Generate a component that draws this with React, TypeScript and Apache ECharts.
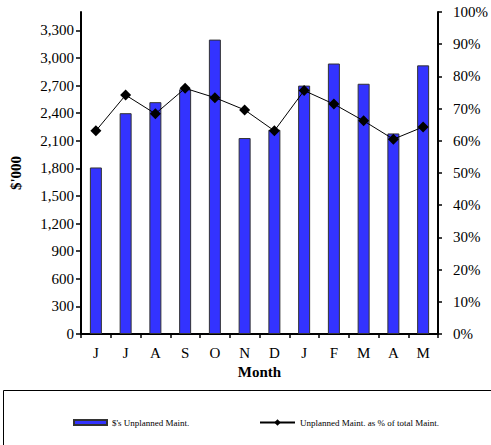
import React, { useEffect, useRef } from "react";
import * as echarts from "echarts";

const months = ["J", "J", "A", "S", "O", "N", "D", "J", "F", "M", "A", "M"];
const unplannedDollars = [1810, 2400, 2520, 2660, 3200, 2130, 2220, 2700, 2940, 2720, 2180, 2920];
const unplannedPct = [63.1, 74.2, 68.4, 76.3, 73.4, 69.6, 63.1, 75.6, 71.4, 66.2, 60.5, 64.3];
const leftTicks = [0, 300, 600, 900, 1200, 1500, 1800, 2100, 2400, 2700, 3000, 3300];
const barName = "$'s Unplanned Maint.";
const lineName = "Unplanned Maint. as % of total Maint.";

const FONT = "'Liberation Serif', 'Times New Roman', serif";

export default function App() {
  const ref = useRef<HTMLDivElement>(null);
  useEffect(() => {
    if (!ref.current) return;
    const chart = echarts.init(ref.current, null, { renderer: "svg" });
    chart.setOption({
      animation: false,
      backgroundColor: "#ffffff",
      textStyle: { fontFamily: FONT },
      grid: { left: 81, right: 50, top: 12, bottom: 111, containLabel: false },
      legend: [
        {
          data: [{ name: barName, icon: "rect" }],
          left: 68,
          top: 413,
          itemWidth: 33,
          itemHeight: 5,
          textStyle: { fontFamily: FONT, fontSize: 9, color: "#000" },
        },
        {
          data: [{ name: lineName }],
          left: 254,
          top: 413,
          itemWidth: 35,
          itemHeight: 8,
          textStyle: { fontFamily: FONT, fontSize: 9, color: "#000" },
        },
      ],
      graphic: [
        {
          type: "rect",
          shape: { x: 3.5, y: 390.5, width: 600, height: 100 },
          style: { fill: "none", stroke: "#000", lineWidth: 1 },
          silent: true,
        },
      ],
      xAxis: {
        type: "category",
        data: months,
        boundaryGap: true,
        name: "Month",
        nameLocation: "middle",
        nameGap: 30,
        nameTextStyle: { fontFamily: FONT, fontSize: 15, fontWeight: "bold", color: "#000" },
        axisLine: { lineStyle: { color: "#000", width: 2 } },
        axisTick: { show: true, interval: 0, length: 4, lineStyle: { color: "#000", width: 1.5 } },
        axisLabel: { interval: 0, margin: 11, fontFamily: FONT, fontSize: 15, color: "#000" },
        splitLine: { show: false },
      },
      yAxis: [
        {
          type: "value",
          min: 0,
          max: 3500,
          interval: 300,
          name: "$'000",
          nameLocation: "middle",
          nameGap: 58,
          nameRotate: 90,
          nameTextStyle: { fontFamily: FONT, fontSize: 15, fontWeight: "bold", color: "#000" },
          axisLine: { show: true, lineStyle: { color: "#000", width: 2 } },
          axisTick: { show: true, length: 5, customValues: leftTicks, lineStyle: { color: "#000", width: 1.5 } },
          axisLabel: {
            margin: 7,
            fontFamily: FONT,
            fontSize: 15,
            color: "#000",
            customValues: leftTicks,
            formatter: (v: number) => v.toLocaleString("en-US"),
          },
          splitLine: { show: false },
        },
        {
          type: "value",
          min: 0,
          max: 100,
          interval: 10,
          position: "right",
          axisLine: { show: true, lineStyle: { color: "#000", width: 2 } },
          axisTick: { show: true, length: 4, lineStyle: { color: "#000", width: 1.5 } },
          axisLabel: { margin: 15, fontFamily: FONT, fontSize: 15, color: "#000", formatter: "{value}%" },
          splitLine: { show: false },
        },
      ],
      series: [
        {
          name: barName,
          type: "bar",
          yAxisIndex: 0,
          data: unplannedDollars,
          barWidth: 12,
          itemStyle: { color: "#3333ff", borderColor: "#333333", borderWidth: 1 },
        },
        {
          name: lineName,
          type: "line",
          yAxisIndex: 1,
          data: unplannedPct,
          symbol: "diamond",
          symbolSize: 11,
          lineStyle: { color: "#000", width: 1 },
          itemStyle: { color: "#000" },
        },
      ],
    });
    return () => chart.dispose();
  }, []);
  return (
    <div
      ref={ref}
      style={{ position: "fixed", left: 0, top: 0, width: 491, height: 445, background: "#fff" }}
    />
  );
}
